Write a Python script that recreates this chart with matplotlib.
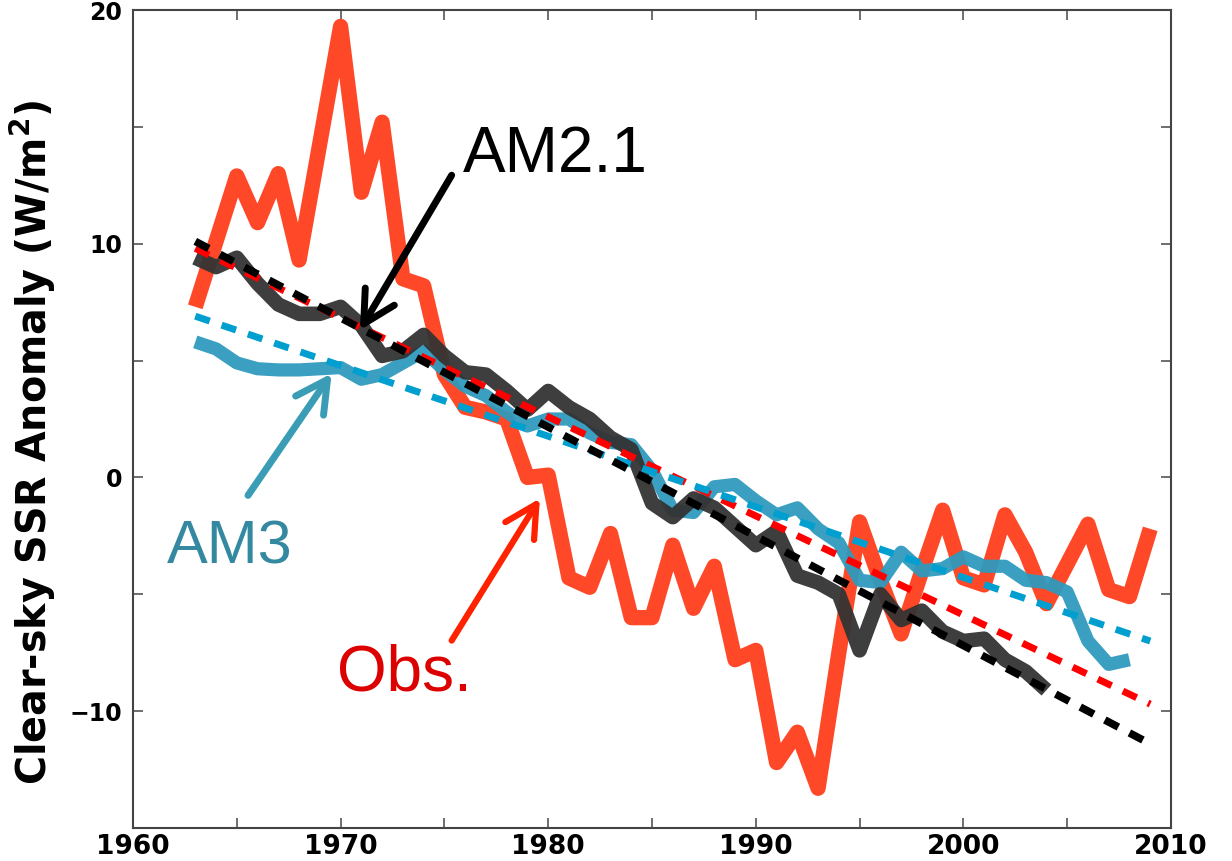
import matplotlib
matplotlib.use("Agg")
import matplotlib.pyplot as plt
import numpy as np

plt.rcParams['lines.scale_dashes'] = False

# ---- data ----
obs_years = list(range(1963, 2010))
obs_values = [7.3, 10.1, 12.9, 10.9, 13.0, 9.3, 14.3, 19.3, 12.2, 15.2,
              8.5, 8.2, 4.4, 3.0, 2.8, 2.5, 0.0, 0.1, -4.3, -4.7,
              -2.4, -6.0, -6.0, -2.9, -5.6, -3.8, -7.8, -7.4, -12.2, -10.9,
              -13.3, -7.5, -1.9, -4.4, -6.7, -4.0, -1.4, -4.3, -4.6, -1.6,
              -3.2, -5.4, -3.7, -2.0, -4.8, -5.1, -2.2]

am21_years = list(range(1963, 2005))
am21_values = [9.4, 9.0, 9.4, 8.3, 7.4, 7.0, 7.0, 7.3, 6.5, 5.2,
               5.4, 6.1, 5.2, 4.5, 4.4, 3.7, 2.9, 3.7, 3.0, 2.5,
               1.7, 1.2, -1.1, -1.7, -0.9, -1.3, -2.1, -2.9, -2.3, -4.2,
               -4.5, -5.0, -7.4, -5.0, -6.1, -5.7, -6.6, -7.0, -6.9, -7.8,
               -8.3, -9.1]

am3_years = list(range(1963, 2009))
am3_values = [5.8, 5.5, 4.9, 4.65, 4.6, 4.6, 4.65, 4.7, 4.2, 4.4,
              4.9, 5.4, 4.6, 3.9, 3.5, 2.8, 2.2, 2.5, 2.5, 1.9,
              1.5, 1.4, 0.3, -1.4, -1.5, -0.4, -0.3, -1.0, -1.6, -1.3,
              -2.2, -2.8, -4.4, -4.5, -3.2, -4.0, -3.9, -3.4, -3.8, -3.8,
              -4.4, -4.5, -4.9, -7.0, -8.0, -7.8]

trend_years = [1963, 2009]
trend_obs = [9.8, -9.7]
trend_am21 = [10.1, -11.4]
trend_am3 = [6.9, -7.0]

xticks = [1960, 1970, 1980, 1990, 2000, 2010]
yticks = [-10, 0, 10, 20]

# ---- figure ----
fig = plt.figure(figsize=(12.32, 8.61), dpi=100)
ax = fig.add_axes([133/1232, 33/861, (1171-133)/1232, (828-10)/861])

ax.plot(obs_years, obs_values, color='#ff4828', lw=11, solid_joinstyle='round',
        solid_capstyle='butt', zorder=2)
ax.plot(am3_years, am3_values, color='#2f9abd', lw=9.5, alpha=0.95,
        solid_joinstyle='round', solid_capstyle='butt', zorder=3)
ax.plot(am21_years, am21_values, color='#333333', lw=10.5, alpha=0.95,
        solid_joinstyle='round', solid_capstyle='butt', zorder=4)

ax.plot(trend_years, trend_obs, color='#ff0000', lw=5, dashes=(11, 9),
        dash_capstyle='butt', zorder=5)
ax.plot(trend_years, trend_am3, color='#009fcf', lw=5, dashes=(11, 9),
        dash_capstyle='butt', zorder=6)
ax.plot(trend_years, trend_am21, color='#000000', lw=5.5, dashes=(11, 9),
        dash_capstyle='butt', zorder=7)

ax.set_xlim(1960, 2010)
ax.set_ylim(-15, 20)
ax.set_xticks(xticks)
ax.set_xticks(np.arange(1965, 2010, 10), minor=True)
ax.set_yticks(yticks)
ax.set_yticks([-5, 5, 15], minor=True)
ax.set_xticklabels([str(v) for v in xticks], fontsize=19, fontweight='bold',
                   family='DejaVu Sans')
ax.set_yticklabels(['\u221210', '0', '10', '20'], fontsize=17,
                   fontweight='bold', family='DejaVu Sans')
ax.tick_params(which='both', direction='in', length=7, width=1.2,
               color='#555555', top=True, right=True)
ax.tick_params(axis='x', pad=4)
ax.tick_params(axis='y', pad=8)
for s in ax.spines.values():
    s.set_color('#444444')
    s.set_linewidth(1.5)

ax.set_ylabel('Clear-sky SSR Anomaly (W/m$^\\mathbf{2}$)', fontsize=28.5,
              fontweight='bold', family='DejaVu Sans')
ax.yaxis.set_label_coords(-0.072, 0.472)

# ---- annotations ----
head = '->,head_length=0.6,head_width=0.32'
ax.annotate('', xy=(1970.93, 6.3), xytext=(1975.35, 12.93),
            arrowprops=dict(arrowstyle=head, lw=5, color='black',
                            mutation_scale=38, shrinkA=0, shrinkB=0),
            zorder=9)
ax.text(1975.9, 13.06, 'AM2.1', fontsize=46, family='Liberation Sans',
        color='black', ha='left', va='baseline', zorder=9)

ax.annotate('', xy=(1969.57, 4.45), xytext=(1965.54, -0.77),
            arrowprops=dict(arrowstyle=head, lw=5, color='#3a9db5',
                            mutation_scale=38, shrinkA=0, shrinkB=0),
            zorder=9)
ax.text(1961.64, -3.68, 'AM3', fontsize=44, family='Liberation Sans',
        color='#3489a0', ha='left', va='baseline', zorder=9)

ax.annotate('', xy=(1979.6, -0.9), xytext=(1975.35, -6.98),
            arrowprops=dict(arrowstyle=head, lw=4.5, color='#ff2200',
                            mutation_scale=38, shrinkA=0, shrinkB=0),
            zorder=9)
ax.text(1969.83, -9.12, 'Obs.', fontsize=46, family='Liberation Sans',
        color='#dd0000', ha='left', va='baseline', zorder=9)

fig.savefig('out.png', dpi=100)
